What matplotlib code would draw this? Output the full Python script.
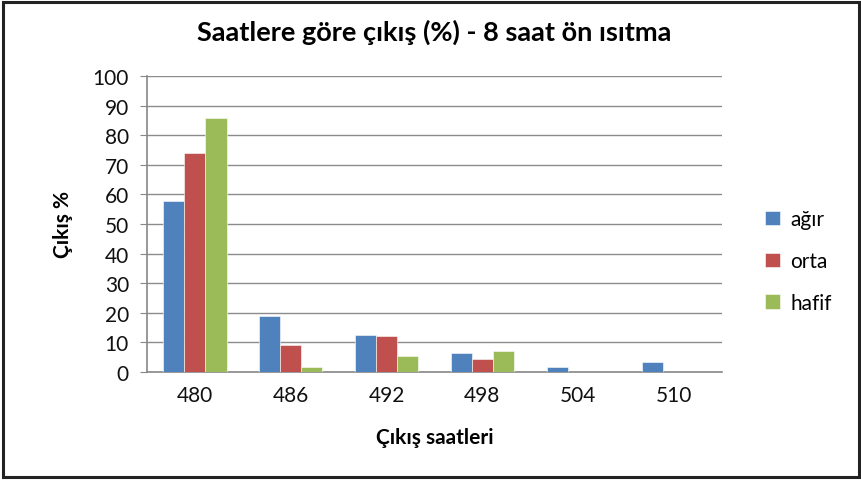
import numpy as np
import matplotlib
matplotlib.use("Agg")
import matplotlib.pyplot as plt
from matplotlib.patches import Rectangle

plt.rcParams['font.family'] = ['Lato', 'DejaVu Sans']

saatler = ['480', '486', '492', '498', '504', '510']
agir = [57.7, 18.8, 12.4, 6.3, 1.6, 3.4]
orta = [74.0, 9.1, 12.0, 4.4, 0, 0]
hafif = [85.8, 1.6, 5.5, 7.0, 0, 0]
seriler = ['ağır', 'orta', 'hafif']
renkler = ['#4f81bd', '#c0504d', '#9bbb59']

fig = plt.figure(figsize=(8.62, 4.81), dpi=100)
ax = fig.add_axes([0.1705, 0.2245, 0.667, 0.6155])

x = np.arange(len(saatler))
w = 0.22
for i, (vals, ad, renk) in enumerate(zip([agir, orta, hafif], seriler, renkler)):
    ax.bar(x + (i - 1) * w, vals, w, color=renk, label=ad, zorder=3,
           edgecolor='white', linewidth=0.4)

ax.set_xlim(-0.5, len(saatler) - 0.5)
ax.set_ylim(0, 100)
ax.set_yticks(range(0, 101, 10))
ax.set_xticks(x)
ax.set_xticklabels(saatler)
ax.tick_params(axis='both', labelsize=15, colors='#111111')
ax.tick_params(axis='x', length=0, pad=9)
ax.tick_params(axis='y', length=5, color='#888888', pad=8)
ax.grid(axis='y', color='#8c8c8c', linewidth=1, zorder=0)
for s in ['top', 'right']:
    ax.spines[s].set_visible(False)
for s in ['left', 'bottom']:
    ax.spines[s].set_color('#888888')
    ax.spines[s].set_linewidth(1.2)

ax.set_title('Saatlere göre çıkış (%) - 8 saat ön ısıtma', fontsize=19.5,
             fontweight='bold', pad=26)
ax.set_ylabel('Çıkış %', fontsize=15, fontweight='bold', labelpad=14)
ax.set_xlabel('Çıkış saatleri', fontsize=15, fontweight='bold', labelpad=16)

fig.legend(loc='center left', bbox_to_anchor=(0.866, 0.455), frameon=False,
           fontsize=15, handlelength=0.7, handleheight=0.7, labelspacing=1.05,
           handletextpad=0.5)

fig.patches.append(Rectangle((0.004, 0.006), 0.992, 0.988, transform=fig.transFigure,
                             fill=False, edgecolor='#222222', linewidth=2.2))

fig.savefig('out.png', dpi=100)
